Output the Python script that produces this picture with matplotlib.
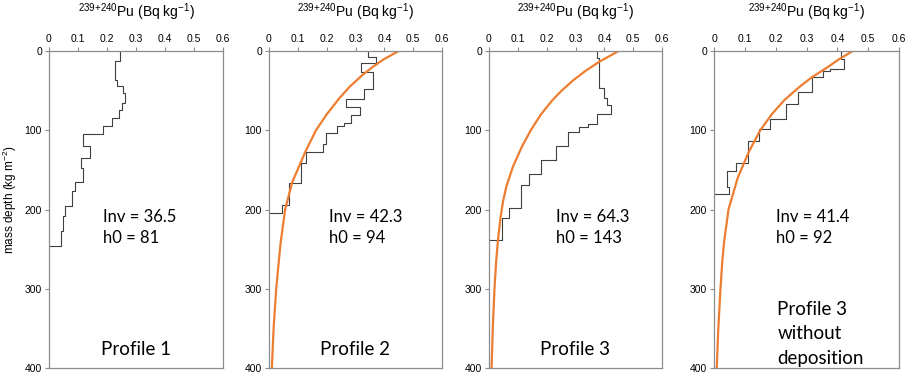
import numpy as np
import matplotlib
matplotlib.use("Agg")
import matplotlib.pyplot as plt

plt.rcParams['font.family'] = ['Liberation Sans', 'DejaVu Sans']
plt.rcParams['mathtext.fontset'] = 'custom'
plt.rcParams['mathtext.rm'] = 'Liberation Sans'
plt.rcParams['mathtext.it'] = 'Liberation Sans:italic'
plt.rcParams['mathtext.default'] = 'regular'

# step profiles: layer edges (kg m-2) and activity (Bq kg-1)
p1_edges = [0, 13, 36, 44, 53, 66, 75, 84, 95, 105, 120, 135, 148, 165, 177, 196, 208, 227, 246]
p1_vals = [0.245, 0.228, 0.233, 0.255, 0.263, 0.252, 0.24, 0.216, 0.185, 0.118, 0.141,
           0.109, 0.118, 0.09, 0.08, 0.055, 0.047, 0.04]

p2_edges = [0, 7, 15, 27, 48, 60, 71, 81, 91, 95, 104, 117, 128, 141, 166, 194, 205]
p2_vals = [0.344, 0.37, 0.318, 0.36, 0.33, 0.266, 0.316, 0.283, 0.26, 0.237, 0.198,
           0.188, 0.128, 0.111, 0.07, 0.046]

p3_edges = [0, 9, 47, 59, 68, 80, 92, 96, 102, 120, 137, 155, 169, 198, 211, 239]
p3_vals = [0.374, 0.382, 0.399, 0.408, 0.422, 0.374, 0.345, 0.313, 0.273, 0.232, 0.18,
           0.14, 0.11, 0.07, 0.044]

p4_edges = [0, 10.5, 23, 25.5, 33, 51.5, 67.5, 86, 99, 114, 141, 151.5, 171, 181]
p4_vals = [0.412, 0.423, 0.376, 0.352, 0.319, 0.273, 0.233, 0.182, 0.146, 0.111, 0.07,
           0.041, 0.049]

# fitted curves
c2_depth = [0, 10, 20, 30, 45, 60, 80, 100, 128, 166, 200, 240, 265, 300, 350, 400]
c2_vals = [0.45, 0.40, 0.36, 0.325, 0.28, 0.243, 0.20, 0.163, 0.125, 0.080, 0.056,
           0.041, 0.034, 0.025, 0.016, 0.010]

c3_depth = [0, 13, 25, 37, 50, 62, 80, 100, 120, 146, 170, 189, 210, 239, 265, 300, 350, 400]
c3_vals = [0.45, 0.385, 0.335, 0.292, 0.252, 0.22, 0.18, 0.145, 0.115, 0.083, 0.061,
           0.049, 0.040, 0.031, 0.025, 0.019, 0.013, 0.009]

c4_depth = [0, 10.5, 20, 33, 45, 62, 80, 100, 128, 160, 200, 240, 265, 300, 350, 400]
c4_vals = [0.45, 0.405, 0.37, 0.318, 0.278, 0.228, 0.187, 0.150, 0.112, 0.077, 0.047,
           0.033, 0.027, 0.021, 0.014, 0.009]

inv_text = ["Inv = 36.5\nh0 = 81", "Inv = 42.3\nh0 = 94", "Inv = 64.3\nh0 = 143", "Inv = 41.4\nh0 = 92"]
profile_text = ["Profile 1", "Profile 2", "Profile 3", "Profile 3\nwithout\ndeposition"]

W, H = 908, 391
fig = plt.figure(figsize=(W / 100, H / 100), dpi=100)

# axes boxes in pixels: left, right
boxes = [(49, 223), (269, 442), (489, 662), (714, 899)]
top, bottom = 51, 368

steps = [(p1_edges, p1_vals), (p2_edges, p2_vals), (p3_edges, p3_vals), (p4_edges, p4_vals)]
curves = [None, (c2_depth, c2_vals), (c3_depth, c3_vals), (c4_depth, c4_vals)]
inv_x = [0.186, 0.208, 0.232, 0.2]

grey = '#8c8c8c'
for i, (l, r) in enumerate(boxes):
    ax = fig.add_axes([l / W, (H - bottom) / H, (r - l) / W, (bottom - top) / H])
    edges, vals = steps[i]
    xs = np.append(np.repeat(vals, 2), 0)
    ys = np.append(np.repeat(edges, 2)[1:-1], edges[-1])
    ax.plot(xs, ys, color='#404040', lw=0.8)
    if curves[i] is not None:
        ax.plot(curves[i][1], curves[i][0], color='#ED7D31', lw=1.6)

    ax.set_xlim(0, 0.6)
    ax.set_ylim(400, 0)
    ax.xaxis.tick_top()
    ax.set_xticks(np.arange(0, 0.61, 0.1))
    ax.set_xticklabels(['0', '0.1', '0.2', '0.3', '0.4', '0.5', '0.6'])
    ax.set_yticks([0, 100, 200, 300, 400])
    ax.tick_params(labelsize=7.5, length=3, width=0.8, color=grey, pad=2)
    for s in ax.spines.values():
        s.set_color(grey)
        s.set_linewidth(0.9)

    ax.text(0.5, 1.123, r'$^{239{+}240}$Pu (Bq kg$^{-1}$)', transform=ax.transAxes,
            ha='center', va='center', fontsize=10)
    ax.text(inv_x[i], 223, inv_text[i], ha='left', va='center', fontsize=12,
            family=['Lato', 'DejaVu Sans'], linespacing=1.35)
    if i < 3:
        ax.text(0.3, 377, profile_text[i], ha='center', va='center', fontsize=13.5,
                family=['Lato', 'DejaVu Sans'])
    else:
        ax.text(0.205, 357, profile_text[i], ha='left', va='center', fontsize=13.5,
                family=['Lato', 'DejaVu Sans'], linespacing=1.55)

fig.text(0.011, 0.49, 'mass depth (kg m$^{-2}$)', rotation=90, ha='center', va='center',
         fontsize=8.5)

fig.savefig('out.png', dpi=100)
